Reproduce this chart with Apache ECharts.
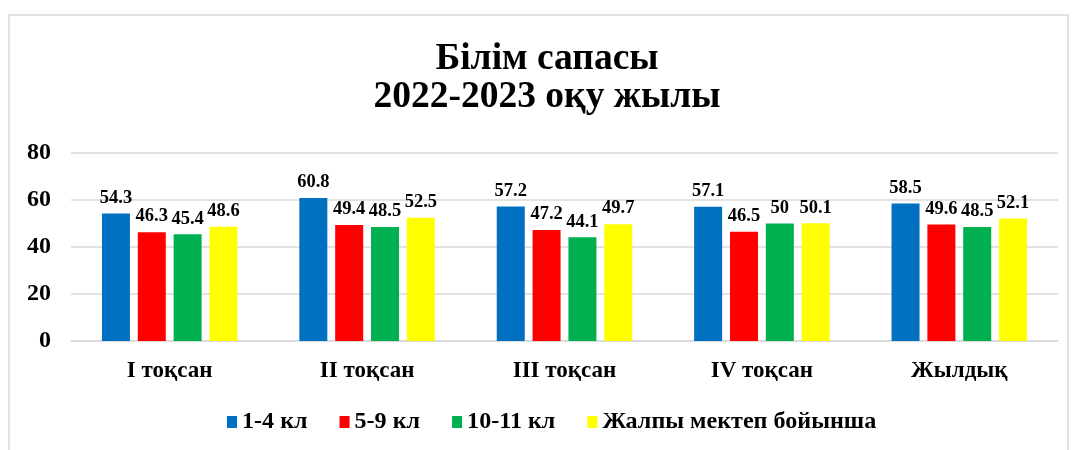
<!DOCTYPE html>
<html>
<head>
<meta charset="utf-8">
<script src="https://cdn.jsdelivr.net/npm/echarts@6/dist/echarts.min.js"></script>
<style>
  html, body { margin: 0; padding: 0; background: #fff; }
  #chart { width: 1075px; height: 450px; }
</style>
</head>
<body>
<div id="chart"></div>
<script>
const categories = ['I тоқсан', 'II тоқсан', 'III тоқсан', 'IV тоқсан', 'Жылдық']
const seriesNames = ['1-4 кл', '5-9 кл', '10-11 кл', 'Жалпы мектеп бойынша']
const grade1to4 = [54.3, 60.8, 57.2, 57.1, 58.5]
const grade5to9 = [46.3, 49.4, 47.2, 46.5, 49.6]
const grade10to11 = [45.4, 48.5, 44.1, 50, 48.5]
const schoolTotal = [48.6, 52.5, 49.7, 50.1, 52.1]
const yTicks = [0, 20, 40, 60, 80]

const colorList = ['#0070C0', '#FF0000', '#00B050', '#FFFF00']
const fontFamily = '"Liberation Serif", "Times New Roman", serif'

const myChart = echarts.init(document.getElementById('chart'))

function barSeries(name, data, color) {
  return {
    name,
    type: 'bar',
    data,
    barWidth: 28,
    barGap: '28%',
    itemStyle: { color },
    label: {
      show: true,
      position: 'top',
      distance: 6,
      color: '#000',
      fontFamily,
      fontWeight: 'bold',
      fontSize: 18.5,
    },
  }
}

const option = {
  animation: false,
  backgroundColor: '#fff',
  color: colorList,
  graphic: [
    {
      type: 'rect',
      shape: { x: 9, y: 15, width: 1059, height: 450 },
      style: { fill: 'none', stroke: '#d9d9d9', lineWidth: 1.5 },
      silent: true,
    },
  ],
  title: {
    text: 'Білім сапасы\n2022-2023 оқу жылы',
    left: 542,
    top: 35,
    textAlign: 'center',
    textStyle: {
      fontFamily,
      fontWeight: 'bold',
      fontSize: 37.5,
      lineHeight: 38,
      color: '#000',
    },
  },
  legend: {
    data: seriesNames,
    bottom: 11,
    left: 222,
    icon: 'rect',
    itemWidth: 10,
    itemHeight: 12,
    itemGap: 32,
    textStyle: {
      fontFamily,
      fontWeight: 'bold',
      fontSize: 24.1,
      color: '#000',
    },
  },
  grid: {
    left: 71,
    right: 17,
    top: 153,
    bottom: 109,
  },
  xAxis: {
    type: 'category',
    data: categories,
    axisTick: { show: false },
    axisLine: { lineStyle: { color: '#d9d9d9', width: 1.5 } },
    axisLabel: {
      margin: 19,
      color: '#000',
      fontFamily,
      fontWeight: 'bold',
      fontSize: 23,
    },
  },
  yAxis: {
    type: 'value',
    min: yTicks[0],
    max: yTicks[yTicks.length - 1],
    interval: 20,
    axisLine: { show: false },
    axisTick: { show: false },
    axisLabel: {
      margin: 20,
      color: '#000',
      fontFamily,
      fontWeight: 'bold',
      fontSize: 24,
    },
    splitLine: { lineStyle: { color: '#d9d9d9', width: 1.5 } },
  },
  series: [
    barSeries(seriesNames[0], grade1to4, colorList[0]),
    barSeries(seriesNames[1], grade5to9, colorList[1]),
    barSeries(seriesNames[2], grade10to11, colorList[2]),
    barSeries(seriesNames[3], schoolTotal, colorList[3]),
  ],
}
myChart.setOption(option, true)
</script>
</body>
</html>
